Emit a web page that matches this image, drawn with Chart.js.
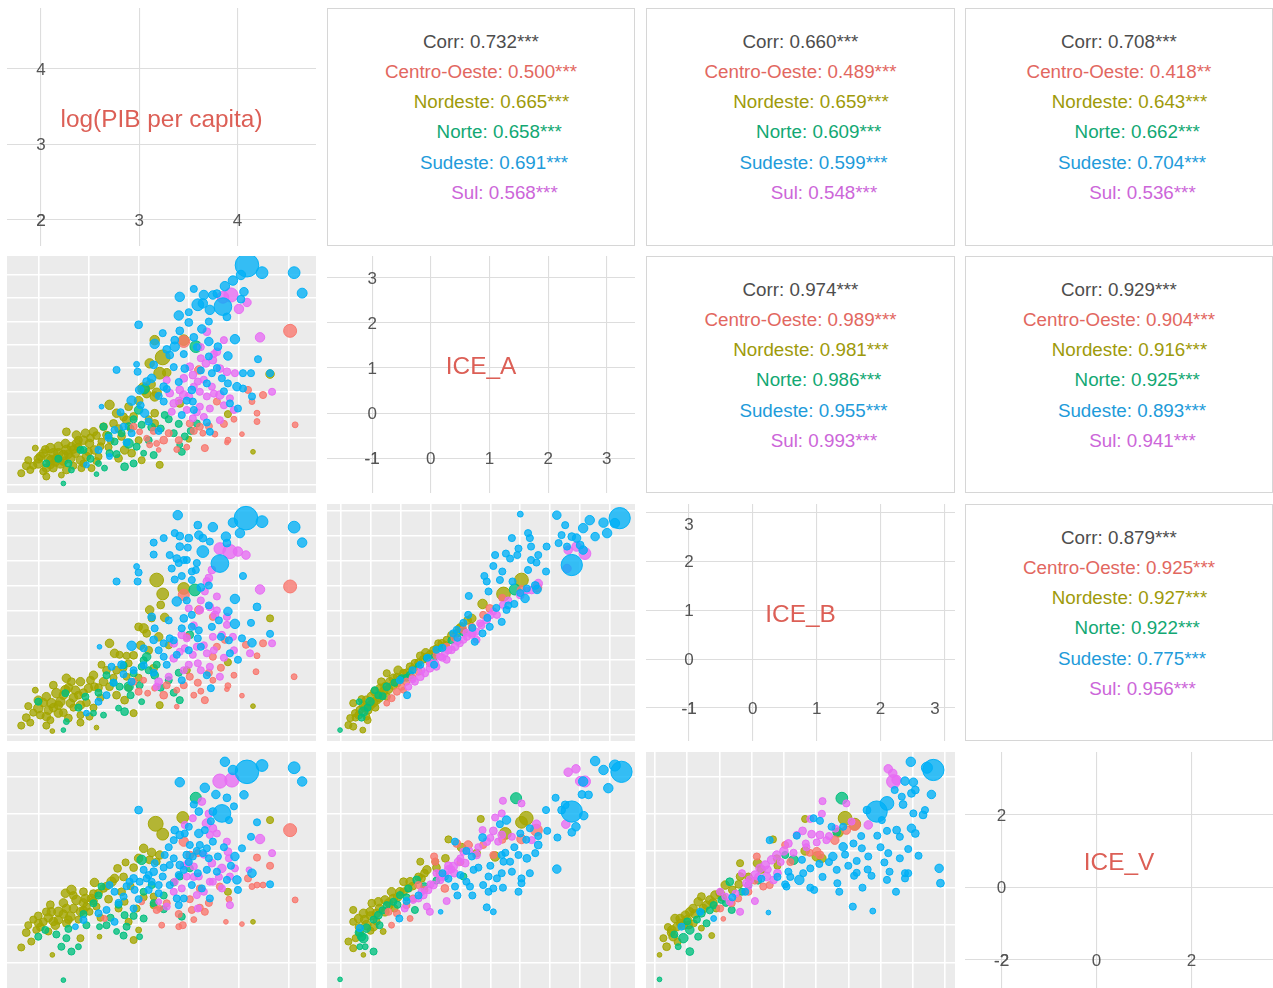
<!DOCTYPE html>
<html>
<head>
<meta charset="utf-8">
<script src="https://cdn.jsdelivr.net/npm/chart.js@4.4.1/dist/chart.umd.min.js"></script>
<style>
  html, body { margin: 0; padding: 0; background: #ffffff; }
  body { width: 1273px; height: 988px; position: relative; overflow: hidden;
         font-family: "Liberation Sans", Arial, Helvetica, sans-serif; }
  .panel { position: absolute; }
  .panel canvas { display: block; }
  .upper { box-sizing: border-box; border: 1px solid #d6d6d6; background: #fff; }
  .upper .txt { position: absolute; left: 0; right: 0; top: 17.5px; text-align: center;
                white-space: pre; font-size: 18.8px; line-height: 30.3px; }
</style>
</head>
<body>
<script>
// ---------------- DATA ----------------
const varNames = ["log(PIB per capita)", "ICE_A", "ICE_B", "ICE_V"];
const regionNames = ["Centro-Oeste", "Nordeste", "Norte", "Sudeste", "Sul"];

// tick labels / grid values
const diagTicks = [[2, 3, 4], [-1, 0, 1, 2, 3], [-1, 0, 1, 2, 3], [-2, 0, 2]];
const gridPib = [2, 2.5, 3, 3.5, 4, 4.5];
const gridA = [-1.5, -1, -0.5, 0, 0.5, 1, 1.5, 2, 2.5, 3];
const gridB = [-1.5, -1, -0.5, 0, 0.5, 1, 1.5, 2, 2.5, 3];
const gridV = [-2, -1, 0, 1, 2, 3];

// correlations (upper panels), pairs in order (0,1),(0,2),(0,3),(1,2),(1,3),(2,3)
const corrPairs = [[0, 1], [0, 2], [0, 3], [1, 2], [1, 3], [2, 3]];
const corrAll = [0.732, 0.660, 0.708, 0.974, 0.929, 0.879];
const starsAll = ["***", "***", "***", "***", "***", "***"];
const corrCO = [0.500, 0.489, 0.418, 0.989, 0.904, 0.925];
const starsCO = ["***", "***", "**", "***", "***", "***"];
const corrNE = [0.665, 0.659, 0.643, 0.981, 0.916, 0.927];
const starsNE = ["***", "***", "***", "***", "***", "***"];
const corrN = [0.658, 0.609, 0.662, 0.986, 0.925, 0.922];
const starsN = ["***", "***", "***", "***", "***", "***"];
const corrSE = [0.691, 0.599, 0.704, 0.955, 0.893, 0.775];
const starsSE = ["***", "***", "***", "***", "***", "***"];
const corrS = [0.568, 0.548, 0.536, 0.993, 0.941, 0.956];
const starsS = ["***", "***", "***", "***", "***", "***"];

// scatter data: [x, y, population size index]
// log(PIB per capita) vs ICE_A
const pibA_CO = [[4.51,1.80,5.5],[3.45,1.57,5],[3.60,0.96,3.6],[4.09,0.53,3],[4.24,0.42,3],[3.78,0.28,3],[4.13,0.28,2.5],[4.18,0.03,2.5],[4.18,-0.15,2.5],[4.56,-0.22,2.5],[3.51,-0.19,3],[3.61,-0.26,3],[3.64,-0.40,2.5],[3.76,-0.42,2.5],[3.89,-0.55,2.5],[4.03,-0.42,2],[3.66,-0.72,3],[3.88,-0.60,2],[3.38,-0.75,2.5],[3.25,-0.55,3.3],[3.18,-0.62,2.5],[3.11,-0.65,2.5],[3.20,-0.76,2],[3.30,-0.40,3],[3.08,-0.51,2.5],[2.95,-0.26,3],[3.01,-0.37,2.5],[3.40,-0.55,3],[3.55,-0.35,3],[3.70,-0.25,3],[3.85,-0.20,3],[3.95,-0.10,2.5],[3.48,-0.70,2.5],[3.15,-0.35,3]];
const pibA_NE = [[3.16,1.60,4],[3.24,1.23,6.3],[3.45,1.60,4.5],[3.11,1.10,4],[3.21,0.89,5],[4.31,0.87,3.6],[3.05,0.56,5],[3.18,0.47,4],[3.16,0.39,4],[3.41,0.24,3.3],[2.71,0.21,4],[2.78,0.03,3.6],[2.90,0.17,3.3],[2.95,-0.04,3.3],[3.16,0.03,3.3],[3.89,0.01,3],[4.14,-0.80,2],[3.50,-0.53,2.5],[3.21,-1.08,3],[3.16,-0.19,3.3],[2.88,-0.12,3.6],[2.86,-0.76,3.6],[2.83,-0.47,3.3],[2.68,-0.44,3.3],[2.63,-0.58,3],[2.80,-0.94,3.3],[3.03,-0.98,3],[2.93,-0.83,3.3],[2.47,-0.40,3.6],[2.55,-0.37,3.6],[2.38,-0.44,3.6],[2.28,-0.37,3.3],[2.38,-0.62,3.6],[2.51,-0.62,3.6],[2.56,-0.76,3.6],[2.28,-0.76,4],[2.20,-0.83,4],[2.12,-0.72,4],[2.05,-0.83,3.6],[2.13,-0.98,4],[2.22,-1.05,4],[2.32,-0.94,4],[2.42,-0.98,3.6],[2.00,-1.05,4],[1.90,-0.98,3],[1.97,-0.72,2.5],[2.08,-1.15,3.6],[2.28,-1.19,3.3],[2.43,-1.15,3],[2.53,-1.15,3],[1.92,-1.19,3],[1.83,-1.26,3],[2.08,-1.33,3],[2.23,-1.30,2.5],[2.18,-0.94,3.6],[2.48,-0.90,3.6],[2.37,-0.83,3.6],[2.25,-0.87,4],[2.33,-0.69,3.6],[2.15,-0.83,4],[2.65,-0.26,3.3],[2.75,-0.19,3.3],[2.02,-0.90,3.6],[2.10,-0.95,3.6],[2.17,-1.02,3.6],[2.25,-1.00,3.6],[2.30,-0.85,3.6],[2.35,-0.75,3.3],[2.40,-0.70,3.3],[2.45,-0.55,3.6],[2.52,-0.50,3.3],[2.58,-0.45,3.3],[2.62,-0.68,3],[2.45,-1.05,3],[2.12,-1.08,3.3],[1.95,-1.10,3],[2.05,-1.22,3],[2.35,-1.10,3],[2.60,-0.90,3],[2.70,-0.70,3],[2.72,-0.55,3],[2.80,-0.30,3.3],[2.85,-0.05,3.3],[3.00,0.30,3.6],[3.08,0.45,3.6],[3.12,0.65,4],[3.28,0.90,3.6],[3.00,-0.55,3],[2.92,-0.30,3],[3.10,-0.10,3],[1.88,-1.10,3.3],[2.00,-0.95,3.6],[2.07,-0.75,3.3],[2.15,-1.15,3.3],[2.27,-0.62,3.6],[2.40,-0.55,3.3],[2.50,-0.80,3.3],[2.58,-1.00,3],[2.20,-0.68,3.6]];
const pibA_N = [[3.57,1.46,5],[3.00,0.10,3.6],[3.26,-0.01,3],[3.58,-0.19,3],[3.43,-0.80,3],[3.41,-0.65,2.5],[3.35,-0.40,3],[3.46,-0.47,3],[3.15,-0.87,3],[3.13,-0.27,3.3],[3.03,-0.22,3],[2.90,-0.62,4],[2.76,-0.58,3],[2.65,-0.26,3],[2.71,-0.83,3],[2.98,-0.69,3],[2.95,-1.05,3],[2.86,-1.12,3.3],[3.05,-0.83,2.5],[2.45,-0.76,3],[2.60,-1.05,2.5],[2.66,-1.15,2.5],[2.58,-1.28,2],[2.25,-1.48,2],[2.33,-1.19,2.5],[2.42,-0.76,3],[2.08,-1.05,3],[3.06,0.55,4],[2.20,-0.95,3],[2.30,-1.05,3],[2.52,-0.95,3],[2.70,-0.45,3],[2.83,-0.40,3],[2.90,-0.25,3],[3.10,-0.55,3],[3.22,-0.30,3],[3.30,-0.10,3],[2.95,-0.10,3],[3.52,-0.35,3],[3.40,-0.20,3],[2.78,-0.85,3]];
const pibA_SE = [[4.08,3.21,10],[4.23,3.05,5],[4.55,3.05,5],[4.63,2.61,4.2],[4.02,3.00,4],[3.94,2.88,4],[3.86,2.76,4],[4.05,2.64,3.6],[3.65,2.57,4],[3.74,2.57,3.6],[3.84,2.32,7.5],[3.59,2.36,5],[3.64,2.39,4],[3.71,2.25,4],[4.02,2.48,3.3],[3.88,2.10,3.3],[3.41,2.53,4],[3.40,2.13,4],[3.50,1.98,3.3],[3.00,1.93,3.3],[3.24,1.75,3],[3.41,1.80,3.3],[3.63,1.84,3.6],[3.55,1.66,3.3],[3.70,1.57,3.6],[3.96,1.62,4],[3.16,1.52,4],[3.36,1.60,3.3],[3.36,1.46,4],[3.31,1.28,3.3],[3.79,1.46,3.3],[3.89,1.26,3.6],[4.19,1.19,3],[3.15,1.07,3.3],[2.98,1.08,2.5],[2.78,0.96,3],[2.99,0.92,3],[3.35,1.02,3],[3.46,0.99,3.3],[3.73,0.89,3],[4.04,0.89,3],[4.12,0.89,3],[4.31,0.89,3],[3.13,0.78,3.6],[3.01,0.53,3.6],[3.25,0.60,3.3],[3.53,0.53,3.3],[3.68,0.67,3],[3.83,0.78,3],[3.89,0.67,3],[3.98,0.60,3.6],[4.04,0.56,3],[4.13,0.39,3],[2.93,0.30,4],[3.25,0.28,3],[3.54,0.28,3],[3.91,0.24,3],[3.99,0.13,3],[2.63,0.17,2],[3.06,0.03,3.6],[3.43,-0.01,3],[3.68,-0.17,3],[3.71,-0.37,3],[2.85,-0.26,3],[2.93,-0.40,3],[2.76,-0.33,3],[2.60,-0.76,3],[2.71,-0.90,2.5],[2.48,-1.08,2.5],[3.08,0.71,3.3],[3.20,0.40,3],[3.28,0.55,3],[3.40,0.70,3],[3.48,0.30,3],[3.55,0.10,3],[3.62,0.95,3],[3.70,1.25,3],[3.78,1.00,3],[3.85,0.50,3],[3.02,0.20,3],[3.10,-0.15,3],[3.20,-0.35,3],[2.88,-0.60,3],[2.70,-0.50,3],[2.82,0.05,3],[3.45,1.30,3],[3.58,1.45,3],[3.28,1.40,3.3],[3.50,2.20,3],[3.70,2.00,3],[3.78,2.60,3.3],[3.55,2.70,3]];
const pibA_S = [[3.92,2.57,6],[3.84,2.52,5],[4.00,2.27,4],[4.08,2.41,3.6],[3.68,1.78,3.3],[4.21,1.66,4],[3.62,1.21,3],[3.78,1.35,3.3],[3.51,1.03,3.3],[3.67,1.10,3.3],[3.74,1.17,3.3],[3.81,0.99,3.3],[3.88,0.92,3.3],[3.96,0.89,3],[3.28,0.74,3],[3.45,0.78,3.3],[3.54,0.85,3.3],[3.59,0.71,3],[3.73,0.60,3],[4.33,0.49,3],[3.31,0.46,3.3],[3.45,0.42,3.6],[3.68,0.39,3],[3.81,0.42,3.6],[3.91,0.35,3],[3.35,0.24,3.3],[3.61,0.17,3],[3.71,0.13,3],[3.33,0.06,3],[3.48,0.10,3],[3.54,-0.08,3],[3.81,-0.12,3],[3.41,0.53,3.3],[3.50,0.39,3.3],[3.61,0.49,3],[3.55,0.60,3],[3.65,0.75,3],[3.75,0.45,3],[3.85,0.20,3],[3.95,0.10,3],[3.40,0.30,3],[3.58,0.05,3],[3.65,-0.05,3],[3.75,1.30,3],[3.85,1.60,3],[3.62,1.45,3]];

// log(PIB per capita) vs ICE_B
const pibB_CO = [[4.51,1.48,5.5],[3.45,1.31,4.7],[3.60,1.01,3.6],[3.74,0.87,3],[3.48,0.47,3],[3.86,0.41,3],[3.78,0.27,3],[3.74,0.07,3],[4.07,0.31,3],[4.24,0.34,3],[4.18,0.09,2.5],[4.17,-0.23,2.5],[4.55,-0.33,2.5],[3.51,-0.33,3],[3.59,-0.45,3],[3.62,-0.62,2.5],[3.74,-0.40,2.5],[3.89,-0.51,2.5],[3.88,-0.58,2],[4.03,-0.71,2],[3.66,-0.80,3],[3.38,-0.60,2.5],[3.38,-0.93,2],[3.25,-0.70,3.3],[3.16,-0.56,2.5],[3.09,-0.66,2.5],[3.00,-0.63,3],[2.95,-0.43,3],[3.05,-0.40,2.5],[3.28,-0.50,3],[3.45,-0.50,3],[3.70,-0.25,3],[3.82,-0.15,3],[3.95,-0.30,2.5],[3.55,-0.70,2.5]];
const pibB_NE = [[3.18,1.61,5.8],[3.24,1.33,5],[3.22,1.11,3.3],[3.45,1.44,5],[3.11,1.01,3.6],[3.13,0.84,3],[3.26,0.86,3.6],[4.31,0.84,3],[3.89,-0.04,3],[4.14,-0.92,2],[3.00,0.67,3.3],[3.05,0.64,4],[3.08,0.54,3.3],[3.20,0.47,3.6],[2.71,0.34,3.6],[2.76,0.14,3.6],[2.81,0.11,3],[2.88,0.09,3],[2.90,-0.06,3],[2.63,-0.09,3],[2.78,-0.20,3.3],[2.88,-0.33,3],[2.55,-0.30,3.6],[2.65,-0.43,3.6],[2.56,-0.53,3.3],[2.71,-0.53,3.3],[2.78,-0.70,3.3],[2.86,-0.80,3.3],[2.95,-1.06,3],[3.21,-0.90,3],[3.15,-0.16,3.3],[3.48,-0.20,3],[2.28,-0.36,3.6],[2.33,-0.43,3.3],[2.42,-0.43,3.6],[2.50,-0.56,3.6],[2.37,-0.60,3.6],[2.27,-0.60,4],[2.18,-0.66,4],[2.08,-0.73,3.6],[2.13,-0.86,4],[2.22,-0.83,4],[2.32,-0.86,3.6],[2.42,-0.90,3.6],[2.00,-0.96,4],[2.02,-1.10,3.3],[1.90,-0.92,3],[1.97,-0.60,2.5],[2.08,-1.13,3.6],[2.20,-1.06,3.6],[2.30,-1.16,3.3],[2.42,-1.10,3],[2.51,-1.13,3],[1.83,-1.31,3],[1.92,-1.25,3],[2.08,-1.31,3],[2.14,-1.42,2],[2.42,-1.25,3],[2.58,-1.35,2],[2.05,-0.85,3.6],[2.15,-0.95,3.6],[2.25,-0.70,3.6],[2.35,-0.75,3.6],[2.45,-0.65,3.3],[2.52,-0.40,3.3],[2.60,-0.55,3.3],[2.68,-0.20,3.3],[2.75,-0.35,3],[2.85,-0.15,3],[2.95,0.10,3.3],[3.02,0.30,3.6],[3.10,0.20,3.3],[2.25,-1.05,3.3],[2.35,-0.95,3],[1.95,-1.05,3],[2.12,-1.20,3],[2.62,-0.75,3],[2.90,-0.55,3],[3.00,-0.35,3],[3.30,0.30,3],[1.88,-1.15,3.3],[2.00,-0.80,3.6],[2.10,-1.00,3.6],[2.20,-0.90,3.6],[2.30,-0.55,3.6],[2.40,-0.70,3.3],[2.48,-0.85,3.3],[2.55,-0.95,3],[2.15,-0.50,3.3]];
const pibB_N = [[3.56,1.41,5],[3.08,0.07,3.6],[3.03,-0.13,3],[3.16,-0.30,3.3],[2.95,-0.26,3],[3.01,-0.50,3],[3.18,-0.09,3],[3.30,-0.40,3],[3.41,-0.80,3],[3.51,0.51,3.3],[2.90,-0.53,4],[2.81,-0.53,3],[3.03,-0.83,2.5],[2.86,-1.03,3.3],[2.80,-0.96,2.5],[2.68,-0.30,3],[2.27,-0.66,3],[2.00,-0.83,3],[2.28,-1.23,2.5],[2.25,-1.40,2],[2.55,-1.06,2.5],[2.65,-1.10,2.5],[2.47,-0.73,3],[2.40,-0.95,3],[2.60,-0.65,3],[2.75,-0.45,3],[2.92,-0.70,3],[3.10,-0.20,3],[3.22,-0.55,3],[3.40,-0.25,3],[2.85,-0.10,3],[3.05,0.00,3],[3.35,-0.65,3]];
const pibB_SE = [[4.07,2.85,10],[4.23,2.78,5],[3.94,2.76,4],[4.55,2.67,5],[4.63,2.36,4],[3.39,2.91,4],[3.59,2.71,3.3],[3.74,2.67,4],[3.87,2.48,4],[3.88,2.35,3.3],[4.01,2.55,4],[3.41,2.49,3.3],[3.36,2.55,3],[3.50,2.45,3.3],[3.60,2.51,3.6],[3.64,2.45,3.3],[3.71,2.38,3],[3.41,2.28,3.3],[3.49,2.26,3],[3.64,2.18,5],[3.81,1.94,7.5],[3.15,2.36,3],[3.25,2.45,3],[3.15,2.12,3],[3.31,2.11,3],[3.38,2.04,3.3],[3.45,2.01,3],[3.48,2.01,3],[3.33,1.84,3],[3.53,1.78,3],[3.57,1.81,3],[2.98,1.88,2.5],[3.00,1.76,3],[2.78,1.58,3],[2.99,1.58,3],[3.36,1.62,3],[3.43,1.69,3],[3.53,1.61,3],[3.62,1.46,3.3],[4.04,1.69,3],[3.38,1.18,4],[3.96,1.23,4],[4.18,1.07,3.3],[3.89,0.98,3.6],[3.96,0.73,4],[4.12,0.75,3],[4.31,0.53,3],[4.13,0.35,3.6],[4.03,0.44,3],[3.91,0.14,3],[3.99,0.01,3],[3.62,0.27,3],[3.59,0.44,3],[3.53,0.67,3],[3.43,0.64,3],[3.45,0.84,3.3],[3.53,0.91,3],[3.73,0.67,3],[3.82,0.47,3],[3.16,0.64,3],[3.13,0.87,3.3],[3.15,0.41,3.3],[3.25,0.34,3],[3.31,0.44,3],[2.93,0.29,4],[3.05,0.24,3],[3.25,0.07,3],[3.38,0.11,3],[3.68,-0.30,3],[3.72,-0.56,3],[2.83,-0.09,3.3],[2.73,-0.13,3],[2.61,0.27,2],[2.85,-0.28,3],[2.93,-0.43,3],[2.60,-0.83,3],[2.68,-0.70,3],[2.48,-1.06,2.5],[3.43,-0.40,3],[3.28,-0.09,3],[3.20,0.20,3],[3.35,0.40,3],[3.50,0.20,3],[3.60,0.60,3],[3.70,1.10,3],[3.80,0.80,3],[3.90,0.40,3],[3.05,-0.10,3],[3.15,-0.25,3],[3.30,0.80,3],[3.48,1.20,3],[3.58,1.95,3],[3.70,1.50,3],[3.40,1.95,3],[2.95,-0.20,3],[2.75,-0.45,3]];
const pibB_S = [[3.81,2.24,5],[3.91,2.18,6],[3.99,2.18,4],[4.07,2.11,3.6],[3.73,1.81,3.3],[3.68,1.58,3.3],[3.66,1.38,3],[3.78,1.28,3],[3.71,1.07,3.3],[3.76,0.91,3.3],[3.61,1.01,3.3],[3.50,1.04,3],[4.21,1.42,4],[3.88,0.87,3],[3.88,0.71,3],[3.43,0.51,3.3],[3.48,0.44,3],[3.58,0.27,3],[3.74,0.47,3],[3.83,0.51,3],[3.94,0.47,3],[3.35,0.34,3.3],[3.46,0.24,3],[3.54,0.11,3],[3.68,0.14,3],[3.35,0.04,3.3],[3.41,0.17,3],[3.50,-0.09,3],[3.59,-0.06,3],[3.71,-0.13,3],[3.81,-0.33,3],[3.30,-0.33,3],[3.20,-0.43,3.3],[3.18,-0.53,3],[4.11,0.14,3],[4.33,0.34,3],[3.55,0.70,3],[3.65,0.30,3],[3.75,0.20,3],[3.62,-0.20,3],[3.45,-0.20,3],[3.85,0.05,3],[3.95,0.20,3],[3.78,1.00,3],[3.70,1.65,3.3],[3.62,1.20,3]];

// log(PIB per capita) vs ICE_V
const pibV_CO = [[4.51,1.56,5.5],[3.45,1.25,4],[3.51,0.89,3.3],[3.59,0.94,3],[4.18,0.82,3],[4.31,0.60,3],[4.09,0.26,3],[4.18,0.08,2.5],[4.24,0.08,2.5],[4.13,0.04,2.5],[4.56,-0.32,2.5],[3.81,0.04,3],[3.61,-0.01,3],[3.51,-0.30,3],[3.61,-0.53,3],[3.66,-0.64,3],[3.53,-0.59,3],[3.87,-0.91,2],[4.03,-0.97,2],[3.44,-1.00,3],[3.40,-1.04,2.5],[3.23,-1.00,2.5],[3.18,-0.59,3],[3.21,-0.55,2.5],[3.03,-0.37,2.5],[2.66,-0.82,2.5],[3.28,-0.41,3],[3.40,-0.70,3],[3.70,-0.40,3],[3.55,-0.85,2.5],[3.90,-0.30,2.5]];
const pibV_NE = [[3.17,1.73,6.3],[3.24,1.45,5],[3.44,1.90,5],[4.31,1.83,3],[3.05,1.07,3.6],[3.13,0.96,3.6],[3.21,0.89,3.6],[3.11,0.76,3.3],[3.18,0.71,3],[2.87,0.69,3],[2.79,0.53,3.3],[2.76,0.26,3.6],[2.73,0.17,4],[2.56,0.15,3.6],[2.65,-0.01,3.3],[2.60,-0.14,3.3],[2.53,-0.28,3.6],[2.47,-0.28,3.6],[2.48,-0.50,3.3],[2.38,-0.32,4],[2.33,-0.05,4],[2.27,-0.14,3.6],[2.42,-0.64,3.6],[2.32,-0.77,4],[2.28,-0.55,3.6],[2.20,-0.64,4],[2.13,-0.64,3.6],[2.08,-0.64,3.3],[2.20,-0.86,3.6],[2.17,-1.00,3.6],[2.05,-0.91,3.3],[2.00,-0.95,3.3],[1.90,-1.00,3],[1.98,-1.13,3],[2.10,-1.17,3],[1.93,-1.44,3],[1.83,-1.60,3],[2.14,-1.80,2],[2.42,-1.35,3],[2.61,-1.31,2],[2.83,-0.10,3.3],[2.86,-0.37,3],[2.90,-0.91,3],[3.00,-1.13,2.5],[2.95,-1.40,3],[2.98,-0.55,3],[3.15,-0.46,3],[3.15,-0.23,3],[3.89,-0.10,3],[4.14,-0.91,2],[2.45,-0.10,3.3],[2.51,-0.64,3],[2.10,-0.80,3.6],[2.25,-0.70,3.6],[2.35,-0.55,3.6],[2.45,-0.40,3.6],[2.55,-0.15,3.3],[2.68,0.05,3.3],[2.70,-0.30,3.3],[2.85,0.30,3.3],[2.95,0.55,3.3],[3.00,0.80,3.6],[2.28,-0.95,3.3],[2.00,-0.75,3.3],[1.95,-0.85,3],[2.40,-0.85,3],[2.58,-0.50,3],[2.62,-0.80,3],[2.80,-0.55,3],[3.05,-0.25,3],[2.92,0.05,3],[1.88,-1.20,3.3],[2.02,-1.05,3.3],[2.15,-0.90,3.6],[2.25,-0.40,3.6],[2.35,-0.20,3.3],[2.45,-0.60,3.3],[2.55,-0.35,3.3],[2.12,-0.45,3.3],[2.30,-0.85,3.3]];
const pibV_N = [[3.57,2.43,4.7],[3.03,0.76,4],[3.51,0.53,3],[3.41,0.31,3],[3.13,0.08,3],[3.15,-0.41,3],[3.25,-0.57,3],[3.43,-0.77,3],[3.05,-0.82,3],[2.86,-0.73,3],[2.78,-1.17,2.5],[2.85,-1.28,3],[2.88,-1.04,3],[3.01,-1.31,2.5],[2.68,-1.00,3],[2.61,-1.04,2.5],[2.28,-1.35,3],[2.23,-1.58,3],[2.33,-1.71,3],[2.40,-1.58,2.5],[2.25,-2.48,2],[2.00,-1.31,3],[2.07,-1.13,3],[2.63,0.04,3],[2.55,-0.41,3],[2.48,-1.00,3],[2.30,-1.10,3],[2.45,-0.70,3],[2.72,-0.80,3],[2.80,-0.45,3],[2.95,-0.75,3],[3.05,-0.10,3],[3.25,-0.20,3],[3.35,0.15,3],[2.18,-1.25,3],[2.60,-0.20,3]];
const pibV_SE = [[4.08,3.13,10],[4.23,3.30,5],[3.86,3.40,4],[3.94,3.18,4],[4.55,3.24,5],[4.63,2.87,4],[4.05,2.51,3.6],[3.41,2.85,4],[3.66,2.70,4],[3.77,2.52,3.6],[3.88,2.43,3.3],[3.83,2.01,7.5],[3.60,2.06,3.3],[3.74,2.06,3.3],[3.90,1.83,3],[3.00,2.10,3.3],[4.18,1.77,3],[4.12,1.38,3],[3.60,1.47,3.6],[3.66,1.56,3],[3.36,1.56,3.3],[3.41,1.43,3.3],[3.35,1.29,3],[3.46,1.47,3],[3.51,1.16,3],[3.61,1.16,3],[3.68,1.07,3],[3.74,1.25,3],[3.64,0.94,3],[3.54,0.85,3],[3.48,0.89,3.3],[3.79,0.85,3],[3.96,0.85,3.6],[4.03,1.07,3],[4.13,0.40,3.6],[4.31,0.10,3],[3.98,0.22,3.6],[3.99,-0.05,3],[3.88,0.22,3],[3.78,0.44,3],[3.68,0.49,3],[3.59,0.40,3],[3.53,0.08,3],[3.63,-0.01,3],[3.71,-0.28,3],[3.45,0.49,3],[3.41,0.62,3.3],[3.35,0.80,3],[3.26,0.89,3],[3.31,0.62,3],[3.16,0.67,3],[3.15,0.44,3.3],[3.24,0.31,3],[3.20,0.08,3],[3.13,0.17,3],[3.05,0.49,3],[3.08,0.26,3],[3.01,0.17,3],[2.95,0.26,3.3],[2.91,0.17,3],[2.96,-0.05,3],[3.10,-0.05,3],[3.20,-0.14,3],[3.31,0.08,3],[3.38,-0.28,3],[3.45,-0.28,3],[2.71,0.08,3],[2.76,-0.10,3],[2.85,-0.23,3],[2.60,-0.68,3],[2.68,-0.59,3],[2.45,-0.86,3],[2.37,-1.04,2.5],[2.76,-0.91,3],[2.95,-0.55,3],[3.40,-0.46,3],[3.25,0.55,3],[3.40,0.35,3],[3.50,0.70,3],[3.58,1.00,3],[3.70,0.80,3],[3.85,1.10,3],[3.92,0.60,3],[3.30,1.10,3],[3.50,1.65,3],[3.72,1.80,3],[3.55,2.25,3],[3.95,2.20,3],[3.10,0.35,3],[2.88,0.05,3],[2.80,-0.40,3],[3.00,-0.30,3]];
const pibV_S = [[3.81,2.88,6],[3.93,2.91,6],[3.63,2.33,3.3],[3.54,1.88,3],[3.68,1.74,4],[3.74,1.61,3.3],[3.78,1.47,3],[3.71,1.43,3],[3.88,1.25,3],[3.89,0.98,3.3],[4.21,1.32,4],[4.33,0.94,3],[4.10,0.49,2.5],[3.96,0.53,3],[3.83,0.53,3.6],[3.91,0.31,3],[3.73,0.67,3.3],[3.55,0.58,3],[3.49,0.67,3],[3.60,0.31,3],[3.71,0.17,3],[3.36,0.17,3],[3.43,-0.01,3],[3.35,-0.10,3],[3.58,-0.19,3],[3.48,0.31,3],[3.83,-0.01,3],[3.91,-0.46,3],[3.46,1.70,3],[3.28,-0.50,3],[3.20,-0.37,2.5],[3.59,-0.55,3],[3.74,0.17,3],[3.55,0.30,3],[3.65,0.90,3],[3.80,0.30,3],[3.65,-0.10,3],[3.45,0.60,3],[3.70,2.00,3.3],[3.90,0.80,3]];

// ICE_A vs ICE_B
const aB_CO = [[1.78,1.46,4],[1.52,1.41,3.6],[0.99,1.04,3.3],[0.88,0.91,3],[0.55,0.61,3],[0.27,0.27,3],[-0.01,-0.06,3],[-0.20,-0.23,3],[-0.40,-0.43,3],[-0.48,-0.53,3],[-0.56,-0.63,3],[-0.65,-0.76,3],[-0.73,-0.86,2.5],[-0.45,-0.60,2.5],[0.69,0.67,3],[0.10,0.10,3],[0.40,0.45,3],[-0.30,-0.35,3],[1.20,1.25,3]];
const aB_NE = [[1.52,1.61,5.8],[1.22,1.33,5.8],[0.87,1.13,4],[0.69,0.84,3.6],[0.52,0.67,3.6],[0.44,0.54,3.3],[0.19,0.34,3.3],[0.10,0.24,3],[-0.08,0.15,3.6],[-0.17,0.09,3.3],[-0.26,-0.06,3.3],[-0.34,-0.13,3.3],[-0.54,-0.20,3.6],[-0.45,-0.26,3.3],[-0.62,-0.36,3.6],[-0.56,-0.46,3.3],[-0.68,-0.43,3.6],[-0.76,-0.53,3.6],[-0.84,-0.56,3.6],[-0.93,-0.63,3.6],[-0.98,-0.73,4],[-1.07,-0.80,3.6],[-0.90,-0.80,3.6],[-0.82,-0.70,3.6],[-1.12,-0.90,3.6],[-1.18,-1.00,3.3],[-1.04,-1.00,3.3],[-1.29,-0.86,3],[-1.26,-1.06,3],[-1.34,-1.16,3],[-1.37,-1.30,3],[-1.29,-1.33,3],[-1.13,-1.40,2.5],[-1.07,-1.13,3],[-0.73,-0.73,3],[-0.82,-0.43,3.3],[-0.73,-0.26,3],[-0.56,-0.33,3],[-0.06,0.07,3.3],[0.13,0.34,3],[0.27,0.41,3],[0.49,0.64,3.6],[-1.20,-1.10,3.3],[-1.10,-0.95,3.6],[-1.00,-0.90,3.6],[-0.95,-0.85,3.6],[-0.85,-0.75,3.6],[-0.78,-0.62,3.6],[-0.70,-0.58,3.6],[-0.62,-0.50,3.6],[-0.50,-0.38,3.6],[-0.40,-0.25,3.3],[-0.30,-0.18,3.3],[-0.20,-0.05,3.3],[-0.12,0.02,3.3],[0.00,0.12,3.3],[0.05,0.20,3.3],[0.25,0.30,3.3],[0.35,0.50,3.3],[0.62,0.80,3.3],[-1.05,-1.20,3],[-1.25,-1.15,3],[-1.15,-0.78,3],[-0.92,-0.95,3]];
const aB_N = [[1.41,1.42,4.7],[0.55,0.57,3.3],[0.19,0.24,3],[-0.06,0.04,3],[-0.34,-0.30,3.3],[-0.48,-0.36,3],[-0.73,-0.53,3.3],[-0.87,-0.70,3],[-1.01,-0.83,3.6],[-1.12,-1.03,4],[-1.19,-0.83,2.5],[-1.51,-1.40,2],[-0.93,-0.60,3],[-1.05,-0.95,3],[-0.80,-0.72,3],[-0.60,-0.45,3],[-0.40,-0.35,3],[-0.20,-0.12,3],[0.05,0.05,3],[0.35,0.40,3],[-1.15,-1.15,3]];
const aB_SE = [[3.16,2.85,9],[3.08,2.75,4],[2.89,2.76,4],[2.95,2.55,4],[2.66,2.81,4],[2.55,2.65,4],[2.75,2.48,3.6],[2.25,2.71,3],[2.11,2.91,3.6],[1.50,2.93,2.5],[2.19,2.51,3],[2.36,2.48,3.3],[2.44,2.45,3.6],[2.50,2.31,3.3],[2.55,2.21,3.6],[2.36,1.91,9],[2.28,2.28,3],[2.14,2.35,3],[1.94,2.28,3],[1.63,2.55,3],[1.66,2.45,3],[1.36,2.45,3],[1.47,2.24,3],[1.45,2.11,3],[1.68,2.28,3],[1.80,2.11,3],[1.68,2.01,3],[1.77,1.96,3],[1.63,1.81,3],[1.93,1.78,3],[1.08,2.11,3],[1.26,2.14,3],[1.33,2.04,3],[1.05,1.89,3],[1.20,1.78,3],[0.90,1.69,3],[0.94,1.58,3],[1.16,1.61,3],[1.37,1.58,3],[0.97,1.38,3],[0.64,1.29,3],[1.58,1.24,3.6],[1.78,1.42,3.6],[1.40,1.13,3],[1.27,1.01,3],[1.19,0.77,3],[0.99,0.67,3],[0.87,0.54,3],[0.63,0.91,3],[0.74,0.37,3],[0.38,0.54,3],[0.44,0.61,3],[0.10,0.21,3],[0.06,-0.09,3],[-0.17,-0.09,3],[-0.39,-0.70,3],[-0.51,-0.40,3],[1.61,1.44,3],[0.20,0.25,3],[0.45,0.45,3],[0.70,0.65,3],[0.95,0.85,3],[1.30,1.10,3],[1.50,1.35,3],[1.75,1.50,3.3],[-0.05,0.05,3],[-0.30,-0.20,3],[0.55,0.75,3],[1.10,1.05,3]];
const aB_S = [[2.58,2.14,5],[2.44,2.28,4],[2.30,2.21,3.6],[2.28,1.84,3.6],[1.80,1.54,3.6],[1.50,1.31,3.3],[1.69,1.41,3.3],[1.21,1.11,3],[1.05,0.98,3],[0.94,0.81,3.3],[0.83,0.74,3],[0.77,0.57,3],[0.69,0.51,3],[0.61,0.47,3],[0.49,0.34,3],[0.41,0.27,3.3],[0.35,0.21,3.3],[0.24,0.14,3],[0.16,0.07,3],[0.08,-0.06,3],[-0.01,-0.16,3.3],[-0.09,-0.26,3],[-0.17,-0.33,3.3],[-0.26,-0.43,3],[-0.37,-0.53,3],[0.10,-0.13,3],[0.27,0.01,3],[0.55,0.41,3],[0.77,0.41,3],[1.11,0.91,3],[0.00,-0.05,3],[0.20,0.05,3],[0.30,0.20,3],[0.45,0.38,3],[0.60,0.55,3],[0.85,0.70,3],[1.00,0.90,3],[1.30,1.20,3],[1.60,1.40,3],[-0.30,-0.38,3],[-0.15,-0.20,3],[0.70,0.55,3.3]];

// ICE_A vs ICE_V
const aV_CO = [[1.77,1.56,5],[1.52,1.32,4],[1.05,0.89,3],[0.88,1.16,3],[0.63,1.16,3.6],[0.44,1.20,3.3],[0.06,0.85,3],[0.08,0.71,3],[0.24,-0.01,3.3],[-0.20,0.08,3],[-0.29,-0.28,3],[-0.40,-0.46,3],[-0.56,-0.68,3],[-0.34,-0.82,2.5],[-0.65,-1.00,2.5],[-0.70,-0.64,3],[0.15,0.40,3],[-0.10,-0.05,3],[0.50,0.70,3],[1.20,1.30,3]];
const aV_NE = [[1.60,1.88,5.8],[1.52,1.77,5],[1.25,1.47,5],[1.08,0.85,4],[0.84,1.86,3],[0.30,1.31,3],[0.52,1.09,3.6],[0.77,0.94,3.3],[-0.17,0.71,3],[0.08,0.71,3],[-0.06,0.49,3.6],[-0.15,0.26,3.3],[-0.34,0.17,3.6],[-0.37,-0.01,3.3],[-0.51,-0.10,3.6],[-0.65,-0.10,3.6],[-0.62,-0.28,3.6],[-0.76,-0.32,3.6],[-0.87,-0.37,3.6],[-0.98,-0.41,3.3],[-1.01,-0.64,3.6],[-0.90,-0.68,3.6],[-0.76,-0.64,3.6],[-1.12,-0.68,3.6],[-1.20,-0.82,3.6],[-1.29,-0.59,3],[-1.29,-0.91,3],[-1.07,-1.00,4],[-0.95,-1.04,3.6],[-1.18,-1.22,3.3],[-1.37,-1.44,3],[-1.29,-1.62,3],[-1.12,-1.80,2],[-0.79,-1.17,2.5],[-0.45,0.17,3.3],[-0.68,-0.46,3],[-1.10,-0.85,3.6],[-1.00,-0.75,3.6],[-0.85,-0.55,3.6],[-0.70,-0.40,3.6],[-0.55,-0.25,3.6],[-0.45,-0.10,3.3],[-0.30,0.05,3.3],[-0.20,0.30,3.3],[-0.10,0.40,3.3],[0.10,0.55,3.3],[0.25,0.80,3.3],[-1.20,-1.05,3],[-1.00,-1.15,3],[-0.90,-0.90,3],[-1.25,-1.35,3],[-0.60,-0.55,3]];
const aV_N = [[1.43,2.42,4.7],[0.55,0.31,3],[0.24,0.31,3],[-0.23,0.22,3.3],[-0.37,-0.01,3],[-0.62,-0.37,3],[-0.73,-0.46,3],[-0.87,-0.73,3.3],[-1.07,-1.08,3.6],[-1.12,-1.35,4],[-1.15,-1.31,3.6],[-0.95,-1.71,3],[-1.18,-1.58,2.5],[-1.09,-1.58,2.5],[-0.26,-0.59,3],[-1.51,-2.46,2],[-0.51,-0.19,3],[-0.95,-0.85,3],[-0.80,-0.60,3],[-0.55,-0.45,3],[-0.40,-0.25,3],[-0.10,0.05,3],[0.10,0.20,3],[-1.20,-1.20,3],[-0.85,-1.00,3]];
const aV_SE = [[3.19,3.13,9],[3.08,3.30,4.7],[2.89,3.18,4],[2.75,3.42,4],[2.97,2.69,4],[2.55,2.87,4],[2.64,2.51,3.3],[2.53,2.52,3.3],[2.36,2.06,9],[2.19,2.10,3.3],[2.25,2.24,3.3],[2.56,1.95,3.6],[2.43,1.65,3.6],[2.36,1.50,3.3],[2.09,2.43,3],[1.93,2.10,3],[1.95,1.54,3],[2.12,1.36,3],[2.11,0.51,3.6],[1.80,1.16,3.3],[1.75,0.94,3],[1.61,0.80,3.3],[1.66,0.40,3],[1.52,0.26,3],[1.52,0.13,3],[1.47,-0.10,3],[1.47,0.89,3],[1.33,0.71,3],[1.22,0.71,3],[1.19,0.40,3],[1.36,0.44,3],[1.11,0.26,3],[1.05,-0.01,3],[0.97,0.31,3],[0.88,0.08,3],[0.97,-0.10,3],[1.21,0.01,3],[0.94,-0.52,3],[1.05,-0.64,2.5],[0.72,0.49,3],[0.60,0.17,3],[0.66,0.04,3],[0.41,0.04,3],[0.69,0.85,3],[0.87,1.36,3.3],[1.19,0.89,3],[1.27,1.83,3.6],[1.16,1.72,3],[1.50,1.47,3],[1.66,1.61,3],[0.17,-0.64,2],[-0.52,-0.82,3],[-1.18,-1.08,3],[0.41,1.25,3],[0.80,0.55,3],[1.00,0.60,3],[1.25,0.95,3],[1.40,1.10,3],[0.50,0.35,3],[0.30,0.25,3],[0.20,0.40,3],[0.60,1.00,3],[1.60,1.30,3],[1.80,1.40,3],[0.70,-0.20,3],[0.45,-0.20,3],[-0.20,-0.20,3],[-0.40,-0.35,3]];
const aV_S = [[2.30,3.12,3.6],[2.43,3.21,3.6],[2.50,2.88,4],[2.58,2.87,4.7],[2.26,1.72,3.6],[1.21,2.35,3],[1.52,2.28,3],[1.08,1.90,3],[1.19,2.01,3],[0.87,1.56,3],[1.05,1.54,3.3],[0.94,1.25,3.3],[1.13,1.25,3],[1.36,1.38,3],[1.19,1.43,3.3],[1.77,1.72,3.6],[1.69,1.29,3],[0.77,0.89,3.3],[0.58,0.67,3.3],[0.47,0.71,3.6],[0.38,0.58,3.6],[0.30,0.49,3.6],[0.24,0.35,3.3],[0.16,0.22,3.3],[0.05,0.08,3.3],[-0.04,-0.05,3.3],[-0.12,-0.19,3.3],[-0.20,-0.28,3],[-0.29,-0.32,3],[-0.06,-0.50,3],[-0.01,-0.64,3],[0.27,-0.35,3],[0.10,0.40,3],[-0.43,-0.55,3],[0.55,0.98,3],[0.00,0.10,3],[0.20,0.30,3],[0.35,0.50,3],[0.50,0.80,3],[0.65,1.00,3],[0.80,1.10,3],[1.00,1.35,3],[-0.15,-0.10,3],[0.40,0.40,3.3],[0.30,0.60,3.3]];

// ICE_B vs ICE_V
const bV_CO = [[1.60,1.70,4.7],[1.47,1.56,3.6],[1.29,1.29,3.6],[1.01,0.98,3.6],[1.06,0.89,3.3],[0.52,1.16,3],[0.08,0.85,3],[0.28,0.08,3],[0.18,0.04,3],[-0.21,-0.28,3],[-0.31,-0.41,3],[-0.49,-0.55,3],[-0.44,-0.83,2],[0.05,0.20,3],[-0.05,-0.10,3],[0.60,0.70,3],[0.90,0.95,3]];
const bV_NE = [[1.45,1.88,5.8],[1.60,1.72,5],[1.35,1.50,4],[1.01,0.85,4],[1.09,0.80,3.6],[0.83,1.00,3.6],[0.83,1.86,3],[0.33,1.31,3],[0.39,0.80,3],[0.09,0.67,3.6],[-0.18,0.31,3.3],[-0.41,0.08,3.6],[-0.49,-0.14,3.6],[-0.57,-0.19,3.6],[-0.65,-0.32,3.6],[-0.70,-0.46,3.6],[-0.78,-0.23,3.3],[-0.83,-0.37,3.6],[-0.91,-0.55,3.6],[-0.96,-0.64,3.6],[-1.03,-0.73,3.6],[-1.11,-0.82,3.6],[-1.19,-0.82,3.6],[-1.16,-1.04,3.6],[-1.24,-1.13,3.6],[-1.06,-1.00,3.6],[-0.98,-1.00,3.3],[-1.22,-1.31,3.6],[-1.37,-1.35,3],[-1.32,-1.58,3.3],[-1.43,-1.80,2],[-0.62,-1.28,2.5],[-0.78,-1.08,2.5],[-0.18,0.67,3],[-1.10,-0.95,3.6],[-1.00,-0.85,3.6],[-0.88,-0.70,3.6],[-0.75,-0.55,3.6],[-0.60,-0.40,3.6],[-0.45,-0.25,3.3],[-0.30,-0.05,3.3],[-0.20,0.10,3.3],[-0.05,0.30,3.3],[0.15,0.50,3.3],[0.40,0.60,3],[-1.25,-1.20,3.3],[-1.30,-1.05,3],[-0.90,-0.95,3],[-1.15,-1.45,3],[-0.55,-0.55,3]];
const bV_N = [[1.40,2.42,5],[1.32,1.50,3.3],[0.65,0.76,4],[0.52,0.89,3],[-0.05,0.08,3],[-0.34,0.17,3.3],[-0.47,-0.32,3],[-0.59,-0.46,3],[-0.78,-0.68,3.3],[-0.96,-1.13,3.6],[-1.06,-1.35,4],[-0.83,-1.31,3],[-0.96,-1.71,3.3],[-1.14,-1.58,2.5],[-1.43,-2.46,2],[-0.31,-0.59,3],[-1.00,-0.90,3],[-0.85,-0.85,3],[-0.65,-0.60,3],[-0.40,-0.40,3],[-0.15,-0.10,3],[0.10,0.20,3],[-1.20,-1.25,3],[-0.70,-0.95,3]];
const bV_SE = [[2.82,3.18,9],[2.72,3.24,4.7],[2.47,3.40,4],[2.79,2.52,3.6],[2.51,2.85,3.6],[2.54,2.64,3.3],[2.48,2.55,3.3],[2.33,2.46,3],[2.38,2.88,3.6],[2.22,2.64,3],[2.35,2.25,3.3],[1.94,2.06,9],[2.10,2.28,5.8],[1.79,2.10,3.3],[2.02,1.83,3],[2.51,2.01,3],[2.66,1.97,3.3],[2.69,2.10,3],[2.25,1.56,3.3],[2.30,1.38,3],[2.48,1.61,3.6],[2.54,1.47,3.3],[2.10,1.54,3],[1.95,1.41,3],[2.43,1.05,3],[2.59,0.87,3],[2.12,0.94,3],[2.06,0.69,3],[2.14,0.44,3],[2.38,0.40,3],[2.43,0.40,3],[2.38,0.26,3],[2.10,0.22,3],[2.24,-0.10,3],[2.91,0.53,3.6],[2.93,0.13,3.3],[1.86,0.33,3],[1.81,0.85,3],[1.72,0.01,3],[1.63,0.41,3],[1.59,0.33,3],[1.63,0.73,3],[1.71,1.07,3],[1.58,1.20,3],[1.42,1.11,3.6],[1.32,0.49,3],[1.33,0.13,3],[1.36,-0.10,3],[1.26,0.85,3.6],[0.91,0.53,3],[0.74,0.22,4],[0.91,0.01,3],[0.97,-0.05,3],[0.52,0.10,3],[0.54,0.04,3],[0.78,0.76,3],[0.57,0.44,3],[1.57,-0.50,3],[1.88,-0.62,2.5],[0.26,-0.66,2],[1.24,1.65,3],[1.42,1.65,3],[1.06,1.81,3],[0.96,1.88,3],[0.70,1.41,3],[0.28,1.29,3],[-0.80,-0.64,3],[-0.59,-0.82,2.5],[-1.09,-1.04,3],[0.60,0.30,3],[0.80,0.40,3],[1.05,0.65,3],[1.20,0.70,3],[1.45,0.90,3],[1.10,0.30,3],[1.50,0.60,3],[2.00,1.10,3],[2.30,0.80,3],[1.80,0.50,3],[0.40,0.30,3],[0.15,0.25,3],[-0.10,-0.10,3],[-0.30,-0.25,3],[1.70,1.40,3]];
const bV_S = [[2.12,3.21,3.6],[2.19,3.09,3.6],[2.20,2.87,5.8],[2.25,2.91,4],[1.10,2.34,3],[1.47,2.28,3],[1.09,2.00,3],[0.91,1.86,3],[1.81,1.70,3.6],[1.55,1.79,3],[0.79,1.54,3.3],[0.93,1.45,3.3],[1.06,1.43,3.3],[1.16,1.29,3],[1.01,1.23,3],[0.84,1.20,3],[0.70,1.43,3],[0.57,1.20,3.3],[0.50,1.00,3.6],[0.39,0.89,3.6],[0.31,0.76,3.6],[0.21,0.62,3.6],[0.13,0.53,3.6],[0.05,0.35,3.6],[0.23,0.31,3.6],[0.34,0.22,3.3],[-0.03,0.22,3.3],[-0.08,0.13,3.3],[-0.15,0.40,3],[-0.18,-0.64,3],[0.05,-0.35,3],[-0.49,-0.10,3],[-0.41,-0.23,3],[-0.34,-0.37,3],[-0.05,0.05,3],[0.10,0.30,3],[0.25,0.50,3],[0.45,0.70,3],[0.65,0.95,3],[0.85,1.10,3],[1.20,1.40,3],[-0.25,-0.15,3],[0.40,0.40,3.3],[1.30,1.60,3]];

// ---------------- STYLE / LAYOUT ----------------
const regionColors = ["#F8766D", "#A3A500", "#00BF7D", "#00B0F6", "#E76BF3"];
const regionTextColors = ["#E2675F", "#9E9A0A", "#12A873", "#1E9BDA", "#CC66D9"];
const drawOrder = [3, 4, 0, 2, 1]; // first = drawn on top
const SIZE_SCALE = 1.18;
const colLeft = [7, 327, 646, 965], colWidth = [309, 308, 309, 308];
const rowTop = [8, 256, 504, 752], rowHeight = [238, 237, 237, 236];

const diagRange = [[1.655, 4.80], [-1.77, 3.48], [-1.675, 3.17], [-2.77, 3.72]];
const lowerXRange = [[1.688, 4.768], [-1.728, 3.416], [-1.64, 3.156]];
const lowerYRange = { 1: [-1.685, 3.408], 2: [-1.619, 3.134], 3: [-2.692, 3.664] };
const lowerXGrid = [gridPib, gridA, gridB];
const lowerYGrid = { 1: gridA, 2: gridB, 3: gridV };

const FONT = '"Liberation Sans", Arial, Helvetica, sans-serif';

function rgba(hex, a) {
  const n = parseInt(hex.slice(1), 16);
  return `rgba(${(n >> 16) & 255},${(n >> 8) & 255},${n & 255},${a})`;
}

function makePanel(r, c, cls) {
  const d = document.createElement('div');
  d.className = 'panel' + (cls ? ' ' + cls : '');
  d.style.left = colLeft[c] + 'px';
  d.style.top = rowTop[r] + 'px';
  d.style.width = colWidth[c] + 'px';
  d.style.height = rowHeight[r] + 'px';
  document.body.appendChild(d);
  return d;
}
function makeCanvas(r, c) {
  const d = makePanel(r, c);
  const cv = document.createElement('canvas');
  cv.width = colWidth[c]; cv.height = rowHeight[r];
  d.appendChild(cv);
  return cv;
}

const bgPlugin = {
  id: 'panelBg',
  beforeDraw(chart, args, opts) {
    const { ctx, chartArea: a } = chart;
    ctx.save();
    ctx.fillStyle = opts.color || '#fff';
    ctx.fillRect(a.left, a.top, a.right - a.left, a.bottom - a.top);
    ctx.restore();
  }
};

function linScale(range, grid, gridColor, gridWidth) {
  return {
    type: 'linear', min: range[0], max: range[1],
    afterBuildTicks: (ax) => { ax.ticks = grid.map(v => ({ value: v })); },
    ticks: { display: false },
    grid: { color: gridColor, lineWidth: gridWidth, drawTicks: false },
    border: { display: false }
  };
}

const diagPlugin = {
  id: 'diagLabels',
  afterDraw(chart, args, opts) {
    const { ctx, chartArea: a, scales: { x, y } } = chart;
    const t = opts.ticks;
    ctx.save();
    ctx.font = '17px ' + FONT;
    ctx.fillStyle = '#555555';
    ctx.textAlign = 'center';
    ctx.textBaseline = 'middle';
    const x0 = x.getPixelForValue(t[0]);
    const y0 = y.getPixelForValue(t[0]);
    t.forEach(v => {
      const py = Math.max(y.getPixelForValue(v) + 1.5, a.top + 21);
      ctx.fillText(String(v), x0, py);
      const px = Math.min(x.getPixelForValue(v), a.right - 20);
      ctx.fillText(String(v), px, y0 + 1.5);
    });
    ctx.font = '24.4px ' + FONT;
    ctx.fillStyle = '#DC5F56';
    ctx.fillText(opts.name, (a.left + a.right) / 2, (a.top + a.bottom) / 2 - 7);
    ctx.restore();
  }
};

function diagPanel(i) {
  const cv = makeCanvas(i, i);
  new Chart(cv, {
    type: 'scatter',
    data: { datasets: [] },
    options: {
      responsive: false, animation: false, events: [],
      layout: { padding: 0, autoPadding: false },
      plugins: { legend: { display: false }, tooltip: { enabled: false },
                 panelBg: { color: '#ffffff' },
                 diagLabels: { ticks: diagTicks[i], name: varNames[i] } },
      scales: {
        x: linScale(diagRange[i], diagTicks[i], '#dddddd', 1.1),
        y: linScale(diagRange[i], diagTicks[i], '#dddddd', 1.1)
      }
    },
    plugins: [bgPlugin, diagPlugin]
  });
}

function scatterPanel(r, c, series) {
  const cv = makeCanvas(r, c);
  new Chart(cv, {
    type: 'bubble',
    data: {
      datasets: drawOrder.map(k => ({
        label: regionNames[k],
        data: series[k].map(p => ({ x: p[0], y: p[1], r: p[2] * SIZE_SCALE })),
        backgroundColor: rgba(regionColors[k], 0.78),
        borderColor: rgba(regionColors[k], 0.95),
        borderWidth: 1,
        hoverRadius: 0
      }))
    },
    options: {
      responsive: false, animation: false, events: [],
      layout: { padding: 0, autoPadding: false },
      plugins: { legend: { display: false }, tooltip: { enabled: false },
                 panelBg: { color: '#EBEBEB' } },
      scales: {
        x: linScale(lowerXRange[c], lowerXGrid[c], '#ffffff', 1.6),
        y: linScale(lowerYRange[r], lowerYGrid[r], '#ffffff', 1.6)
      }
    },
    plugins: [bgPlugin]
  });
}

function upperPanel(idx) {
  const [r, c] = [corrPairs[idx][0], corrPairs[idx][1]];
  const d = makePanel(r, c, 'upper');
  const txt = document.createElement('div');
  txt.className = 'txt';
  const groups = [
    [corrCO, starsCO], [corrNE, starsNE], [corrN, starsN], [corrSE, starsSE], [corrS, starsS]
  ];
  const first = document.createElement('div');
  first.style.color = '#4d4d4d';
  first.textContent = 'Corr: ' + corrAll[idx].toFixed(3) + starsAll[idx];
  txt.appendChild(first);
  groups.forEach((g, k) => {
    const line = document.createElement('div');
    line.style.color = regionTextColors[k];
    line.textContent = regionNames[k].padStart(12, ' ') + ': ' + g[0][idx].toFixed(3) + g[1][idx];
    txt.appendChild(line);
  });
  d.appendChild(txt);
}

// ---------------- BUILD ----------------
for (let i = 0; i < 4; i++) diagPanel(i);
for (let k = 0; k < corrPairs.length; k++) upperPanel(k);
scatterPanel(1, 0, [pibA_CO, pibA_NE, pibA_N, pibA_SE, pibA_S]);
scatterPanel(2, 0, [pibB_CO, pibB_NE, pibB_N, pibB_SE, pibB_S]);
scatterPanel(3, 0, [pibV_CO, pibV_NE, pibV_N, pibV_SE, pibV_S]);
scatterPanel(2, 1, [aB_CO, aB_NE, aB_N, aB_SE, aB_S]);
scatterPanel(3, 1, [aV_CO, aV_NE, aV_N, aV_SE, aV_S]);
scatterPanel(3, 2, [bV_CO, bV_NE, bV_N, bV_SE, bV_S]);
</script>
</body>
</html>
